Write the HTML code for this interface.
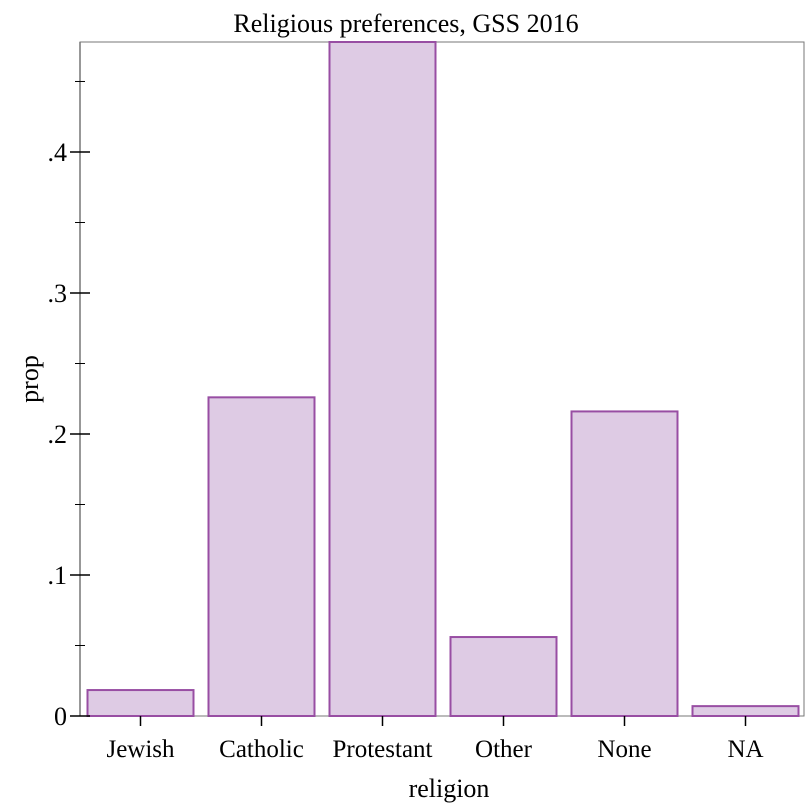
<!DOCTYPE html>
<html><head><meta charset="utf-8"><style>body{margin:0;background:#fff}svg{display:block}text{font-family:"Liberation Serif",serif;fill:#000}</style></head>
<body>
<svg id="chart" width="812" height="812" xmlns="http://www.w3.org/2000/svg">
<text x="406" y="32" font-size="26" text-anchor="middle">Religious preferences, GSS 2016</text>
<rect x="80" y="42" width="724" height="674" fill="none" stroke="#777" stroke-width="1"/>
<g id="bars"></g>
<g id="axes"></g>
<text transform="translate(38,379) rotate(-90)" font-size="26" text-anchor="middle">prop</text>
<text x="449" y="797" font-size="26" text-anchor="middle">religion</text>
</svg>
<script>
const categories=["Jewish","Catholic","Protestant","Other","None","NA"];
const values=[0.0184,0.226,0.478,0.056,0.216,0.007];
const yTicks=[0,0.1,0.2,0.3,0.4];
const yTickLabels=["0",".1",".2",".3",".4"];
const yMinor=[0.05,0.15,0.25,0.35,0.45];
const NS="http://www.w3.org/2000/svg";
const L=80,R=806,T=42,B=716,yMax=0.478;
const y=v=>B-v/yMax*(B-T);
const slot=(R-L)/categories.length;
const xc=i=>L+slot*(i+0.5);
const bw=106;
const bars=document.getElementById('bars'),axes=document.getElementById('axes');
function mk(tag,attrs,parent){const e=document.createElementNS(NS,tag);for(const k in attrs)e.setAttribute(k,attrs[k]);parent.appendChild(e);return e;}
values.forEach((v,i)=>{
 const r=mk('rect',{x:xc(i)-bw/2,y:y(v),width:bw,height:B-y(v),fill:'#decbe4',stroke:'#984ea3','stroke-width':2},bars);
 
 
 const t=mk('line',{x1:xc(i),x2:xc(i),y1:B,y2:B+10,stroke:'#000','stroke-width':1.5},axes);
 
 
 const lb=mk('text',{x:xc(i),y:B+41,'font-size':25,'text-anchor':'middle'},axes);
 lb.textContent=categories[i];
 
 
});
const al=mk('line',{x1:L,x2:L,y1:T,y2:B,stroke:'#777','stroke-width':1.5},axes);


yTicks.forEach((v,i)=>{
 const t=mk('line',{x1:L-10,x2:L+10,y1:y(v),y2:y(v),stroke:'#000','stroke-width':1.5},axes);
 
 
 const lb=mk('text',{x:L-13,y:y(v)+9,'font-size':26,'text-anchor':'end'},axes);
 lb.textContent=yTickLabels[i];
 
 
});
yMinor.forEach(v=>{
 const t=mk('line',{x1:L-5,x2:L+5,y1:y(v),y2:y(v),stroke:'#000','stroke-width':1},axes);
 
 
});
</script>
</body></html>
